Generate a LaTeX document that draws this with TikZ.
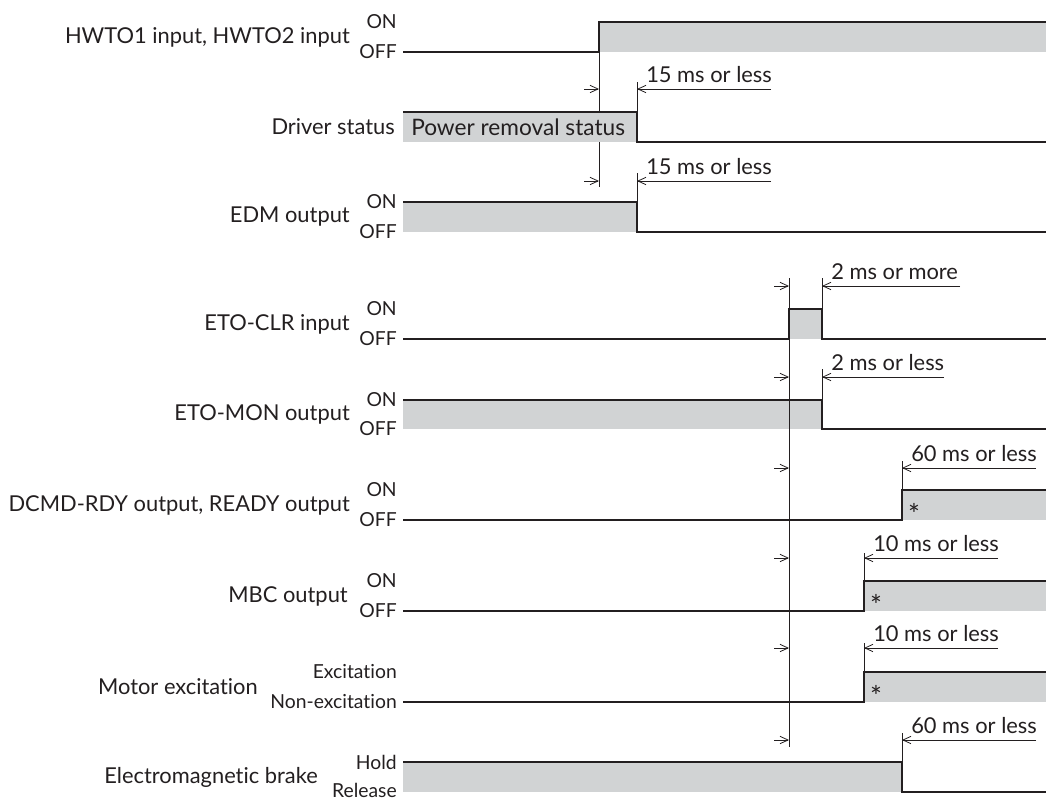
\documentclass[tikz,border=0pt]{standalone}
\usepackage{fontspec}
\setmainfont{Lato}[Ligatures=NoCommon]
\usetikzlibrary{arrows.meta}
\definecolor{sig}{RGB}{35,31,32}
\definecolor{greyfill}{RGB}{209,211,212}
\newcommand{\tdim}[6]{% name, y, x1, x2, xend, text
  \draw[dimarrow] (#3-15,#2) -- (#3,#2);
  \draw[dimarrow] (#5,#2) -- (#4,#2);
  \node[dimtext] (#1) at (#4+9,#2-7) {#6};}
\begin{document}
\begin{tikzpicture}[x=0.75pt,y=-0.75pt,
 sigline/.style={draw=sig,line width=1pt},
 guide/.style={draw=sig,line width=0.6pt},
 dimarrow/.style={draw=sig,line width=0.6pt,-{Straight Barb[length=6pt,width=5.5pt]}},
 lbl/.style={font=\fontsize{16.4}{19}\selectfont,anchor=east,inner sep=0pt,text=sig},
 lvl/.style={font=\fontsize{14.5}{17}\selectfont,anchor=east,inner sep=0pt,text=sig},
 dimtext/.style={font=\fontsize{16.4}{19}\selectfont,anchor=base west,inner sep=0pt,text=sig},
 star/.style={font=\fontsize{21}{21}\selectfont,inner sep=0pt,text=sig,anchor=north}]
\useasboundingbox (0,0) rectangle (1046,800);

% guide through first rows (hidden by the status box)
\draw[guide] (599,22) -- (599,187);

% ---- Row 1: HWTO
\fill[greyfill] (599,22) rectangle (1046,52);
\draw[sigline] (403,52) -- (599,52) -- (599,22) -- (1046,22);
\node[lbl] (l1) at (350,37) {HWTO1 input, HWTO2 input};
\node[lvl] (l1on) at (397,22) {ON};
\node[lvl] (l1off) at (397,52) {OFF};

% ---- Row 2: Driver status
\fill[greyfill] (403,112) rectangle (637,142);
\draw[sigline] (403,112) -- (637,112) -- (637,142) -- (1046,142);
\node[lbl] (l2) at (395,127) {Driver status};
\node[lbl,anchor=west,font=\fontsize{17}{19}\selectfont] (l2s) at (411,127) {Power removal status};
\draw[guide] (637,82) -- (637,112);
\tdim{d1}{89}{599}{637}{771}{15 ms or less}

% ---- Row 3: EDM
\fill[greyfill] (403,202) rectangle (637,232);
\draw[sigline] (403,202) -- (637,202) -- (637,232) -- (1046,232);
\node[lbl] (l3) at (350,217) {EDM output};
\node[lvl] (l3on) at (397,202) {ON};
\node[lvl] (l3off) at (397,232) {OFF};
\draw[guide] (637,173) -- (637,202);
\tdim{d2}{181}{599}{637}{771}{15 ms or less}

% ---- Row 4: ETO-CLR
\fill[greyfill] (789,309) rectangle (822,339);
\draw[sigline] (403,339) -- (789,339) -- (789,309) -- (822,309) -- (822,339) -- (1046,339);
\node[lbl] (l4) at (350,324) {ETO-CLR input};
\node[lvl] (l4on) at (397,309) {ON};
\node[lvl] (l4off) at (397,339) {OFF};
\draw[guide] (822,278) -- (822,309);
\tdim{d3}{286}{789}{822}{960}{2 ms or more}

% ---- Row 5: ETO-MON
\fill[greyfill] (403,400) rectangle (822,429);
\draw[sigline] (403,400) -- (822,400) -- (822,429) -- (1046,429);
\node[lbl] (l5) at (350,414) {ETO-MON output};
\node[lvl] (l5on) at (397,400) {ON};
\node[lvl] (l5off) at (397,429) {OFF};
\draw[guide] (822,369) -- (822,400);
\tdim{d4}{377}{789}{822}{944}{2 ms or less}

% ---- Row 6: DCMD-RDY
\fill[greyfill] (902,490) rectangle (1046,520);
\draw[sigline] (403,520) -- (902,520) -- (902,490) -- (1046,490);
\node[lbl] (l6) at (350,505) {DCMD-RDY output, READY output};
\node[lvl] (l6on) at (397,490) {ON};
\node[lvl] (l6off) at (397,520) {OFF};
\node[star] (s6) at (914,503) {*};
\draw[guide] (902,461) -- (902,490);
\tdim{d5}{468}{789}{902}{1036}{60 ms or less}

% ---- Row 7: MBC
\fill[greyfill] (864,581) rectangle (1046,611);
\draw[sigline] (403,611) -- (864,611) -- (864,581) -- (1046,581);
\node[lbl] (l7) at (348,596) {MBC output};
\node[lvl] (l7on) at (397,581) {ON};
\node[lvl] (l7off) at (397,611) {OFF};
\node[star] (s7) at (876,594) {*};
\draw[guide] (864,553) -- (864,581);
\tdim{d6}{558}{789}{864}{998}{10 ms or less}

% ---- Row 8: Motor excitation
\fill[greyfill] (864,672) rectangle (1046,702);
\draw[sigline] (403,702) -- (864,702) -- (864,672) -- (1046,672);
\node[lbl] (l8) at (258,687) {Motor excitation};
\node[lvl] (l8on) at (397,672) {Excitation};
\node[lvl] (l8off) at (397,702) {Non-excitation};
\node[star] (s8) at (876,685) {*};
\draw[guide] (864,643) -- (864,672);
\tdim{d7}{648}{789}{864}{998}{10 ms or less}

% ---- Row 9: Electromagnetic brake
\fill[greyfill] (403,762) rectangle (902,792);
\draw[sigline] (403,762) -- (902,762) -- (902,792) -- (1046,792);
\node[lbl] (l9) at (318,777) {Electromagnetic brake};
\node[lvl] (l9on) at (397,762) {Hold};
\node[lvl] (l9off) at (397,790) {Release};
\draw[guide] (902,733) -- (902,762);
\tdim{d8}{740}{789}{902}{1036}{60 ms or less}

% long guide
\draw[guide] (789,278) -- (789,747);
\end{tikzpicture}
\end{document}
